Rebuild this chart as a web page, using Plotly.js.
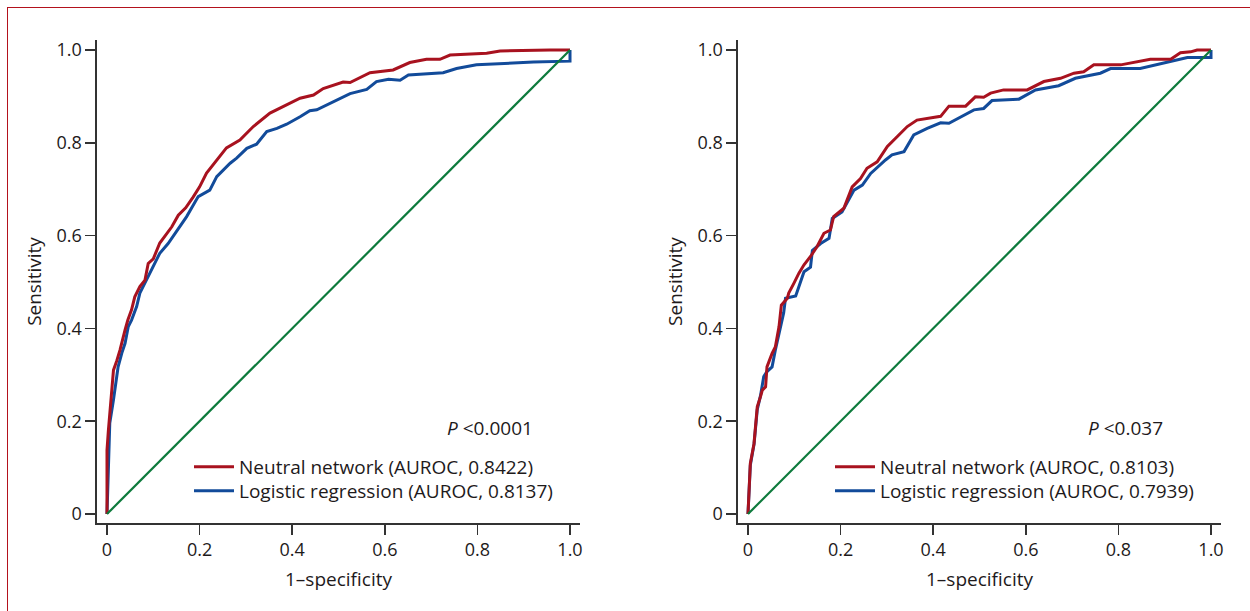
<!DOCTYPE html>
<html>
<head>
<meta charset="utf-8">
<script src="https://cdn.plot.ly/plotly-3.0.1.min.js"></script>
<style>
  html, body { margin: 0; padding: 0; background: #fff; }
  #wrap { position: relative; width: 1250px; height: 611px; overflow: hidden; }
  #chart { position: absolute; left: 0; top: 0; width: 1250px; height: 611px; }
  #frame { position: absolute; left: 7px; top: 7px; width: 1300px; height: 700px;
           border-left: 1.6px solid #b3121d; border-top: 1.6px solid #b3121d; pointer-events: none; }
</style>
</head>
<body>
<div id="wrap"><div id="chart"></div><div id="frame"></div></div>
<script>
// ---- Data ----
const tickVals = [0, 0.2, 0.4, 0.6, 0.8, 1.0];
const tickText = ["0", "0.2", "0.4", "0.6", "0.8", "1.0"];

const diagX = [0, 1];
const diagY = [0, 1];

// Left panel
const nnLeftX = [0,0,0.003,0.01,0.014,0.021,0.028,0.039,0.045,0.053,0.06,0.071,0.082,0.089,0.1,0.114,0.14,0.154,0.17,0.186,0.2,0.215,0.237,0.258,0.287,0.316,0.352,0.388,0.417,0.446,0.467,0.51,0.525,0.568,0.618,0.654,0.69,0.719,0.741,0.82,0.849,0.957,1];
const nnLeftY = [0,0.138,0.18,0.26,0.31,0.33,0.353,0.397,0.418,0.44,0.468,0.49,0.504,0.54,0.55,0.584,0.619,0.644,0.66,0.683,0.705,0.735,0.763,0.789,0.806,0.835,0.864,0.881,0.896,0.903,0.917,0.931,0.93,0.951,0.957,0.973,0.98,0.98,0.989,0.993,0.998,1.0,1.0];
const lrLeftX = [0,0.002,0.003,0.006,0.014,0.021,0.024,0.032,0.039,0.046,0.053,0.064,0.071,0.078,0.097,0.114,0.132,0.147,0.172,0.197,0.222,0.237,0.266,0.28,0.302,0.323,0.345,0.367,0.388,0.417,0.438,0.453,0.525,0.561,0.582,0.608,0.633,0.651,0.726,0.755,0.798,0.921,0.996,1,1];
const lrLeftY = [0,0.06,0.124,0.196,0.246,0.304,0.317,0.347,0.368,0.404,0.418,0.447,0.476,0.49,0.53,0.562,0.583,0.605,0.641,0.684,0.698,0.727,0.756,0.767,0.788,0.797,0.824,0.831,0.84,0.856,0.869,0.871,0.906,0.915,0.932,0.937,0.935,0.946,0.951,0.96,0.968,0.974,0.976,0.976,1.0];

// Right panel
const nnRightX = [0,0.002,0.005,0.013,0.02,0.027,0.031,0.038,0.041,0.052,0.059,0.067,0.072,0.085,0.088,0.099,0.11,0.121,0.135,0.149,0.164,0.178,0.185,0.207,0.225,0.243,0.257,0.279,0.301,0.322,0.344,0.365,0.416,0.434,0.47,0.491,0.509,0.524,0.552,0.603,0.639,0.675,0.704,0.725,0.747,0.805,0.869,0.913,0.934,0.956,0.97,1];
const nnRightY = [0,0.052,0.109,0.152,0.231,0.253,0.267,0.274,0.317,0.346,0.36,0.404,0.45,0.465,0.476,0.497,0.519,0.537,0.555,0.576,0.605,0.612,0.641,0.659,0.705,0.723,0.745,0.759,0.792,0.813,0.835,0.849,0.857,0.879,0.879,0.899,0.898,0.907,0.914,0.914,0.932,0.939,0.95,0.953,0.968,0.968,0.98,0.98,0.994,0.996,1.0,1.0];
const lrRightX = [0,0.002,0.005,0.013,0.02,0.027,0.034,0.041,0.052,0.059,0.07,0.077,0.081,0.092,0.103,0.121,0.135,0.139,0.157,0.175,0.182,0.203,0.229,0.247,0.265,0.297,0.311,0.337,0.358,0.387,0.416,0.434,0.488,0.509,0.527,0.585,0.621,0.671,0.707,0.761,0.783,0.847,0.905,0.949,0.997,1,1];
const lrRightY = [0,0.05,0.105,0.15,0.225,0.255,0.296,0.307,0.317,0.353,0.404,0.433,0.465,0.468,0.47,0.522,0.532,0.568,0.583,0.594,0.637,0.651,0.698,0.709,0.734,0.763,0.774,0.781,0.817,0.831,0.843,0.842,0.871,0.874,0.891,0.894,0.914,0.923,0.939,0.95,0.96,0.96,0.974,0.984,0.984,0.984,1.0];

const nnLeftName = "Neutral network (AUROC, 0.8422)";
const lrLeftName = "Logistic regression (AUROC, 0.8137)";
const nnRightName = "Neutral network (AUROC, 0.8103)";
const lrRightName = "Logistic regression (AUROC, 0.7939)";
const pLeft = "<i>P</i> &lt;0.0001";
const pRight = "<i>P</i> &lt;0.037";

// ---- Styles ----
const RED = "#a8121f", BLUE = "#124b9a", GREEN = "#0d7a3c";
const FONT = "Open Sans, Noto Sans, sans-serif";
const TXT = "#1e1a1b";

const traces = [
  {x: lrLeftX, y: lrLeftY, name: lrLeftName, mode: "lines", line: {color: BLUE, width: 3}, xaxis: "x", yaxis: "y", legend: "legend2"},
  {x: nnLeftX, y: nnLeftY, name: nnLeftName, mode: "lines", line: {color: RED, width: 3}, xaxis: "x", yaxis: "y", legend: "legend"},
  {x: diagX, y: diagY, mode: "lines", line: {color: GREEN, width: 2.2}, xaxis: "x", yaxis: "y", showlegend: false},
  {x: lrRightX, y: lrRightY, name: lrRightName, mode: "lines", line: {color: BLUE, width: 3}, xaxis: "x2", yaxis: "y2", legend: "legend4"},
  {x: nnRightX, y: nnRightY, name: nnRightName, mode: "lines", line: {color: RED, width: 3}, xaxis: "x2", yaxis: "y2", legend: "legend3"},
  {x: diagX, y: diagY, mode: "lines", line: {color: GREEN, width: 2.2}, xaxis: "x2", yaxis: "y2", showlegend: false}
];

const W = 1250, H = 611;
const titleFont = {family: FONT, size: 19, color: TXT};
function axisCommon(extra) {
  return Object.assign({
    showline: true, linecolor: "#333333", linewidth: 1.7,
    ticks: "outside", ticklen: 10, tickwidth: 1.7, tickcolor: "#333333",
    tickvals: tickVals, ticktext: tickText,
    tickfont: {family: FONT, size: 18, color: TXT},
    showgrid: false, zeroline: false, fixedrange: true
  }, extra);
}
const yDom = [(H - 523) / H, (H - 40) / H];
const xRange = [-10 / 463, 1 + 10 / 463];
const yRange = [-9 / 464, 1 + 10 / 464];

function legendAt(px, pyTop) {
  return {
    font: {family: FONT, size: 19, color: TXT},
    bgcolor: "rgba(0,0,0,0)", borderwidth: 0, itemwidth: 40,
    xanchor: "left", yanchor: "top", itemclick: false, itemdoubleclick: false,
    x: px / W, y: (H - pyTop) / H
  };
}

const layout = {
  width: W, height: H,
  margin: {l: 0, r: 0, t: 0, b: 0},
  paper_bgcolor: "#fff", plot_bgcolor: "#fff",
  font: {family: FONT, color: TXT},
  xaxis: axisCommon({domain: [97 / W, 580 / W], range: xRange, anchor: "y",
    title: {text: "1–specificity", font: titleFont, standoff: 12}}),
  yaxis: axisCommon({domain: yDom, range: yRange, anchor: "x",
    title: {text: "Sensitivity", font: titleFont, standoff: 10}}),
  xaxis2: axisCommon({domain: [738 / W, 1221 / W], range: xRange, anchor: "y2",
    title: {text: "1–specificity", font: titleFont, standoff: 12}}),
  yaxis2: axisCommon({domain: yDom, range: yRange, anchor: "x2",
    title: {text: "Sensitivity", font: titleFont, standoff: 10}}),
  showlegend: true,
  legend: legendAt(189, 448),
  legend2: legendAt(189, 472),
  legend3: legendAt(830, 448),
  legend4: legendAt(830, 472),
  annotations: [
    {xref: "x", yref: "y", x: 0.73, y: 0.185, text: pLeft, showarrow: false, xanchor: "left", yanchor: "middle",
     font: {family: FONT, size: 19, color: TXT}},
    {xref: "x2", yref: "y2", x: 0.731, y: 0.185, text: pRight, showarrow: false, xanchor: "left", yanchor: "middle",
     font: {family: FONT, size: 19, color: TXT}}
  ]
};

Plotly.newPlot("chart", traces, layout, {displayModeBar: false, staticPlot: true});
</script>
</body>
</html>
